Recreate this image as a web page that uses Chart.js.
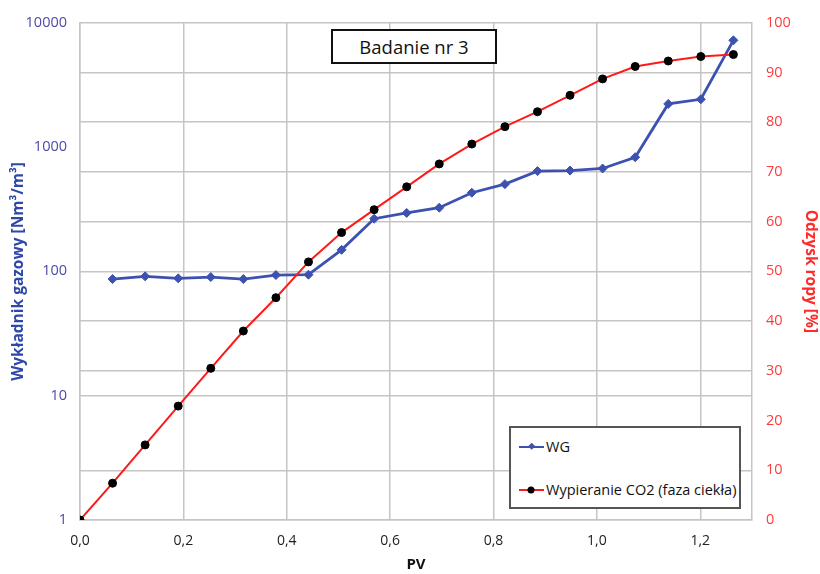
<!DOCTYPE html>
<html>
<head>
<meta charset="utf-8">
<script src="https://cdn.jsdelivr.net/npm/chart.js@4.4.1/dist/chart.umd.min.js"></script>
<style>
  html, body { margin: 0; padding: 0; background: #fff; }
  #wrap { position: relative; width: 820px; height: 574px; }
  canvas { display: block; }
  #titleBox {
    position: absolute; left: 331px; top: 29px; width: 162px; height: 31px;
    border: 2px solid #111; background: #fff;
    font-family: "Open Sans", sans-serif; font-size: 18.5px; color: #111;
    display: flex; align-items: center; justify-content: center;
  }
  #legendBox {
    position: absolute; left: 509px; top: 426px; width: 228px; height: 79px;
    border: 2px solid #555; background: #fff;
    font-family: "Open Sans", sans-serif; font-size: 14.5px; color: #111;
  }
  .lg { position: absolute; left: 6px; display: flex; align-items: center; white-space: nowrap; }
  .lg svg { margin-right: 1px; }
</style>
</head>
<body>
<div id="wrap">
  <canvas id="c" width="820" height="574"></canvas>
  <div id="titleBox">Badanie nr 3</div>
  <div id="legendBox">
    <div class="lg" style="top:9px;">
      <svg width="28" height="12"><line x1="2" y1="6" x2="27" y2="6" stroke="#3d52b0" stroke-width="2"/><rect x="11.5" y="2.5" width="5" height="5" transform="rotate(45 14 6)" fill="#3d52b0"/></svg>
      <span>WG</span>
    </div>
    <div class="lg" style="top:52px;">
      <svg width="28" height="12"><line x1="2" y1="6" x2="27" y2="6" stroke="#ff1a1a" stroke-width="2"/><circle cx="14" cy="6" r="3.5" fill="#000"/></svg>
      <span>Wypieranie CO2 (faza ciekła)</span>
    </div>
  </div>
</div>
<script>
// ---- data ----
const pvRecovery = [0, 0.063, 0.126, 0.19, 0.253, 0.316, 0.379, 0.442, 0.506, 0.569, 0.632, 0.695, 0.758, 0.822, 0.885, 0.948, 1.011, 1.074, 1.138, 1.201, 1.264];
const recovery = [0, 7.4, 15.1, 22.9, 30.5, 38.0, 44.7, 51.9, 57.8, 62.4, 67.0, 71.6, 75.6, 79.1, 82.1, 85.4, 88.7, 91.2, 92.3, 93.2, 93.6];
const pvWG = [0.063, 0.126, 0.19, 0.253, 0.316, 0.379, 0.442, 0.506, 0.569, 0.632, 0.695, 0.758, 0.822, 0.885, 0.948, 1.011, 1.074, 1.138, 1.201, 1.264];
const wg = [86.7, 91.2, 87.9, 90, 86.7, 93.4, 94, 149, 265, 295, 325, 429, 503, 640, 647, 672, 828, 2223, 2421, 7211];
const xTicks = [0, 0.2, 0.4, 0.6, 0.8, 1.0, 1.2];
const leftTicks = [1, 10, 100, 1000, 10000];
const rightTicks = [0, 10, 20, 30, 40, 50, 60, 70, 80, 90, 100];

const gridCol = '#c9c4c4';
const FONT = '"Open Sans", sans-serif';

new Chart(document.getElementById('c'), {
  type: 'scatter',
  data: {
    datasets: [
      {
        label: 'WG',
        data: pvWG.map((x, i) => ({ x: x, y: wg[i] })),
        yAxisID: 'y',
        showLine: true,
        borderColor: '#3d52b0',
        backgroundColor: '#3d52b0',
        borderWidth: 2.8,
        pointStyle: 'rectRot',
        pointRadius: 4.5,
        pointBorderWidth: 1,
        order: 2
      },
      {
        label: 'Wypieranie CO2 (faza ciekła)',
        data: pvRecovery.map((x, i) => ({ x: x, y: recovery[i] })),
        yAxisID: 'y1',
        showLine: true,
        borderColor: '#ff1a1a',
        backgroundColor: '#000',
        pointBorderColor: '#000',
        borderWidth: 2,
        pointStyle: 'circle',
        pointRadius: 4,
        pointBorderWidth: 1,
        order: 1
      }
    ]
  },
  options: {
    responsive: false,
    animation: false,
    layout: { padding: { top: 22, left: 0, right: 0, bottom: 0 } },
    plugins: { legend: { display: false }, tooltip: { enabled: false } },
    scales: {
      x: {
        type: 'linear',
        min: 0, max: 1.3,
        afterBuildTicks: s => { s.ticks = xTicks.map(v => ({ value: v })); },
        afterFit: s => { s.height = 54; },
        grid: { color: gridCol, lineWidth: 1.5, drawTicks: false },
        border: { display: true, color: gridCol, width: 1.5 },
        ticks: {
          padding: 13,
          color: '#222',
          font: { family: FONT, size: 14 },
          callback: v => v.toFixed(1).replace('.', ',')
        },
        title: {
          display: true, text: 'PV', color: '#111',
          font: { family: FONT, size: 15, weight: 'bold' },
          padding: { top: 0, bottom: 0 }
        }
      },
      y: {
        type: 'logarithmic',
        position: 'left',
        min: 1, max: 10000,
        afterBuildTicks: s => { s.ticks = leftTicks.map(v => ({ value: v })); },
        afterFit: s => { s.width = 80; },
        grid: {
          drawTicks: false, lineWidth: 1.5,
          color: c => (c.tick && c.tick.value === 10) ? gridCol : 'rgba(0,0,0,0)'
        },
        border: { display: true, color: gridCol, width: 1.5 },
        ticks: {
          padding: 13,
          color: '#4b4aa8',
          font: { family: FONT, size: 14.5 },
          callback: v => String(v)
        },
        title: {
          display: true, text: 'Wykładnik gazowy [Nm³/m³]', color: '#2f48a8',
          font: { family: FONT, size: 15.5, weight: 'bold' },
          padding: { top: 9, bottom: 0 }
        }
      },
      y1: {
        type: 'linear',
        position: 'right',
        min: 0, max: 100,
        afterBuildTicks: s => { s.ticks = rightTicks.map(v => ({ value: v })); },
        afterFit: s => { s.width = 68; },
        grid: {
          drawTicks: false, lineWidth: 1.5,
          color: c => (c.tick && c.tick.value === 20) ? 'rgba(0,0,0,0)' : gridCol
        },
        border: { display: true, color: gridCol, width: 1.5 },
        ticks: {
          padding: 14,
          color: '#ff3b3b',
          font: { family: FONT, size: 14.5 },
          callback: v => String(v)
        },
        title: {
          display: true, text: 'Odzysk ropy [%]', color: '#ff2a2a',
          font: { family: FONT, size: 15.5, weight: 'bold' },
          padding: { top: 0, bottom: 0 }
        }
      }
    }
  }
});
</script>
</body>
</html>
